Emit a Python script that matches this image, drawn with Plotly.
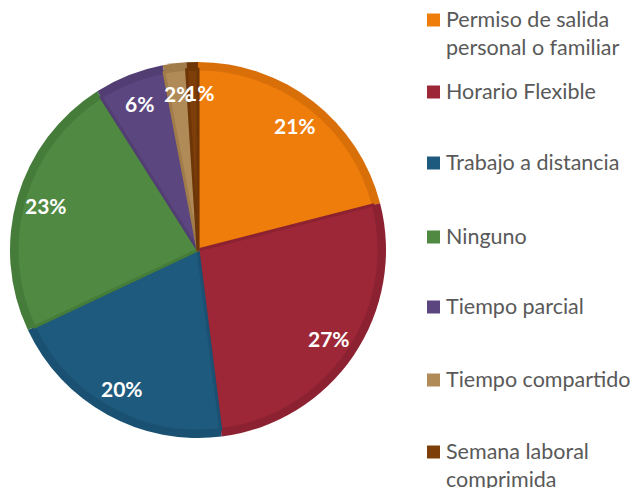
import plotly.graph_objects as go
import numpy as np

# Data
categories = [
    "Permiso de salida<br>personal o familiar",
    "Horario Flexible",
    "Trabajo a distancia",
    "Ninguno",
    "Tiempo parcial",
    "Tiempo compartido",
    "Semana laboral<br>comprimida",
]
values = [21, 27, 20, 23, 6, 2, 1]
colors = ["#EE7D0C", "#9E2737", "#1E5A7D", "#4F8942", "#5C4680", "#B08B57", "#7E3E0A"]
edge_colors = ["#D96F08", "#8C2231", "#1A5072", "#467C3A", "#523E73", "#A07C4B", "#6E3606"]
legend_rows = [20, 92, 163, 237, 307, 380, 452]  # px from top of each legend row

W, H = 634, 488
cx, cy, R = 198, 250, 188
inset = 7

fig = go.Figure()

# outer ring in darker shade (gives the bevelled edge)
fig.add_trace(go.Pie(
    values=values, labels=categories, sort=False, direction="clockwise", rotation=0,
    marker=dict(colors=edge_colors, line=dict(width=0)),
    textinfo="none", hoverinfo="skip", showlegend=False,
    domain=dict(x=[(cx - R) / W, (cx + R) / W], y=[(H - cy - R) / H, (H - cy + R) / H]),
))
# inner face of the pie
r2 = R - inset
fig.add_trace(go.Pie(
    values=values, labels=categories, sort=False, direction="clockwise", rotation=0,
    marker=dict(colors=colors, line=dict(color=edge_colors, width=3)),
    textinfo="none", showlegend=False,
    domain=dict(x=[(cx - r2) / W, (cx + r2) / W], y=[(H - cy - r2) / H, (H - cy + r2) / H]),
))

# percentage labels placed along each slice's bisector
total = sum(values)
cum = np.cumsum([0] + values[:-1])
annotations = []
for i, (v, c0) in enumerate(zip(values, cum)):
    ang = 2 * np.pi * (c0 + v / 2) / total
    rr = 0.84 * R
    x = cx + rr * np.sin(ang)
    y = cy - rr * np.cos(ang)
    if i == len(values) - 1:
        x += 6  # thin last slice: nudge its label off the neighbour's
    annotations.append(dict(
        x=x / W, y=1 - y / H, xref="paper", yref="paper",
        text=f"<b>{round(100 * v / total)}%</b>", showarrow=False,
        font=dict(family="Lato", size=21, color="white"),
        xanchor="center", yanchor="middle",
    ))

# legend drawn as swatches plus text
shapes = []
for name, col, yrow in zip(categories, colors, legend_rows):
    shapes.append(dict(
        type="rect", xref="paper", yref="paper",
        x0=427 / W, x1=440 / W, y0=1 - (yrow + 6.5) / H, y1=1 - (yrow - 6.5) / H,
        fillcolor=col, line=dict(width=0),
    ))
    annotations.append(dict(
        x=444 / W, y=1 - (yrow - 16) / H, xref="paper", yref="paper",
        text=name, showarrow=False, align="left",
        xanchor="left", yanchor="top",
        font=dict(family="Lato", size=21.5, color="#595959"),
    ))

fig.update_layout(
    width=W, height=H, margin=dict(l=0, r=0, t=0, b=0),
    paper_bgcolor="white", plot_bgcolor="white",
    annotations=annotations, shapes=shapes, showlegend=False,
)

fig.write_html("out.html")
